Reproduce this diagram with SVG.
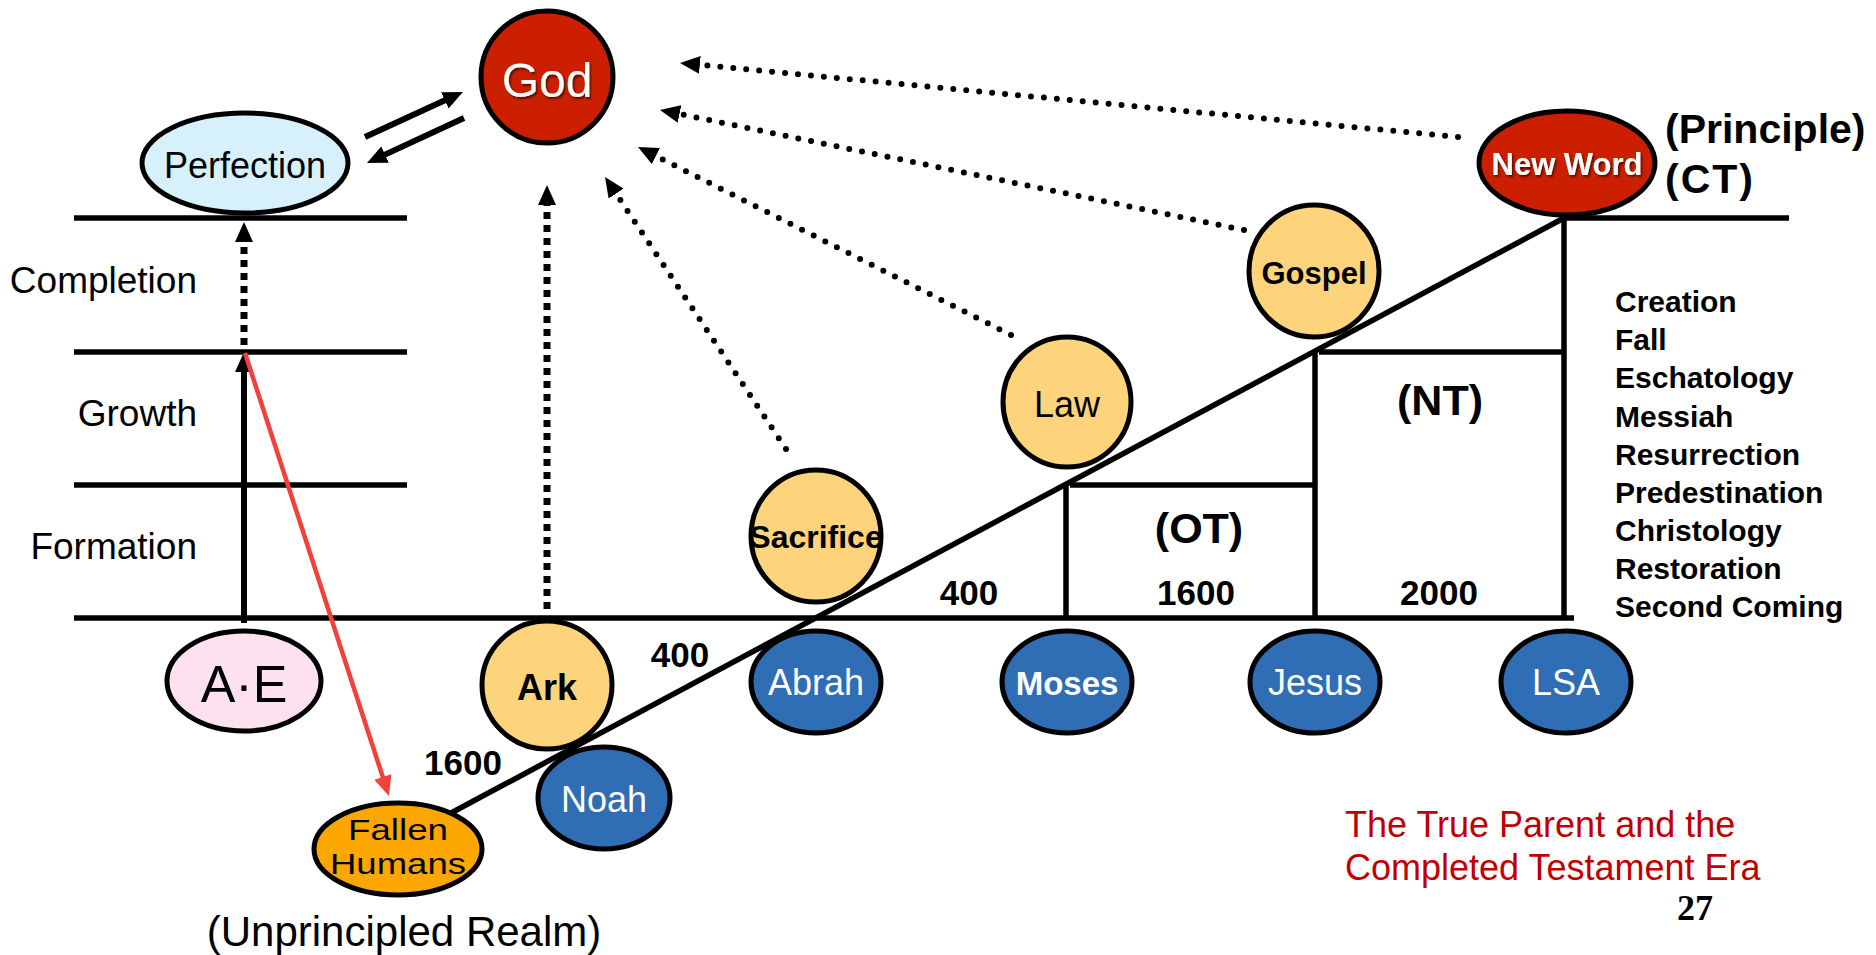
<svg xmlns="http://www.w3.org/2000/svg" width="1876" height="955" viewBox="0 0 1876 955">
<defs>
<style>
text{font-family:"Liberation Sans",Arial,sans-serif}
.ln{stroke:#000;stroke-width:5.5;fill:none}
.nd{stroke:#000;stroke-width:5}
.b{font-weight:bold}
.c{text-anchor:middle}
.wt{fill:#fff}
.sq{stroke:#000;stroke-width:7;stroke-dasharray:7 6;fill:none}
.dt{stroke:#000;stroke-width:6;stroke-dasharray:0 13;stroke-linecap:round;fill:none}
.sol{stroke:#000;stroke-width:6;fill:none}
.red{stroke:#f0413a;stroke-width:4.5;fill:none}
</style>
<marker id="ah" viewBox="0 0 20 18" refX="2" refY="9" markerWidth="20" markerHeight="18" markerUnits="userSpaceOnUse" orient="auto"><path d="M0,0 L20,9 L0,18 z" fill="#000"/></marker>
<marker id="ahr" viewBox="0 0 20 18" refX="2" refY="9" markerWidth="20" markerHeight="18" markerUnits="userSpaceOnUse" orient="auto"><path d="M0,0 L20,9 L0,18 z" fill="#f0413a"/></marker>
<filter id="sh" x="-20%" y="-20%" width="140%" height="140%"><feDropShadow dx="1.5" dy="2" stdDeviation="1.2" flood-color="#000" flood-opacity="0.6"/></filter>
</defs>
<rect width="1876" height="955" fill="#fff"/>

<g id="timeline">
<line class="ln" x1="74" y1="218" x2="407" y2="218"/>
<line class="ln" x1="74" y1="352" x2="407" y2="352"/>
<line class="ln" x1="74" y1="485" x2="407" y2="485"/>
<line class="ln" x1="74" y1="618" x2="1574" y2="618"/>
<line class="ln" x1="451" y1="813" x2="1564" y2="218"/>
<line class="ln" x1="1066" y1="485" x2="1066" y2="618"/>
<line class="ln" x1="1070" y1="485" x2="1315" y2="485"/>
<line class="ln" x1="1315" y1="352" x2="1315" y2="618"/>
<line class="ln" x1="1319" y1="352" x2="1564" y2="352"/>
<line class="ln" x1="1564" y1="218" x2="1564" y2="618"/>
<line class="ln" x1="1564" y1="218" x2="1789" y2="218"/>
</g>

<g id="labels">
<text x="197" y="293" font-size="37" text-anchor="end">Completion</text>
<text x="197" y="426" font-size="37" text-anchor="end">Growth</text>
<text x="197" y="559" font-size="37" text-anchor="end">Formation</text>
<text x="404" y="946" font-size="42" class="c">(Unprincipled Realm)</text>
<text x="463" y="775" font-size="35" class="b c">1600</text>
<text x="680" y="667" font-size="35" class="b c">400</text>
<text x="969" y="605" font-size="35" class="b c">400</text>
<text x="1196" y="605" font-size="35" class="b c">1600</text>
<text x="1439" y="605" font-size="35" class="b c">2000</text>
<text x="1199" y="543" font-size="43" class="b c">(OT)</text>
<text x="1440" y="415" font-size="43" class="b c">(NT)</text>
<text x="1665" y="143" font-size="41" class="b">(Principle)</text>
<text x="1665" y="193" font-size="41" class="b" letter-spacing="2">(CT)</text>
<g font-size="30" class="b">
<text x="1615" y="312">Creation</text>
<text x="1615" y="350">Fall</text>
<text x="1615" y="388">Eschatology</text>
<text x="1615" y="427">Messiah</text>
<text x="1615" y="465">Resurrection</text>
<text x="1615" y="503">Predestination</text>
<text x="1615" y="541">Christology</text>
<text x="1615" y="579">Restoration</text>
<text x="1615" y="617">Second Coming</text>
</g>
<text x="1345" y="837" font-size="36" fill="#c00000">The True Parent and the</text>
<text x="1345" y="880" font-size="36" fill="#c00000">Completed Testament Era</text>
<text x="1695" y="920" font-size="36" class="b c" style="font-family:'Liberation Serif','Times New Roman',serif">27</text>
</g>

<g id="connectors">
<line class="sol" x1="365" y1="137" x2="446.6" y2="99.5" marker-end="url(#ah)"/>
<line class="sol" x1="464" y1="118" x2="383.3" y2="155.4" marker-end="url(#ah)"/>
<line class="sol" x1="244" y1="623" x2="244" y2="370" stroke-width="7" marker-end="url(#ah)"/>
<line class="sq" x1="244" y1="345" x2="244" y2="240" marker-end="url(#ah)"/>
<line class="sq" x1="547" y1="609" x2="547" y2="203" marker-end="url(#ah)"/>
<line class="red" x1="245" y1="353" x2="383.4" y2="778.9" marker-end="url(#ahr)"/>
<line class="dt" x1="1458" y1="137" x2="697.9" y2="64.7" marker-end="url(#ah)"/>
<line class="dt" x1="1244" y1="230" x2="677.6" y2="113.6" marker-end="url(#ah)"/>
<line class="dt" x1="1011" y1="335" x2="654.1" y2="155.1" marker-end="url(#ah)"/>
<line class="dt" x1="786" y1="449" x2="615" y2="192" marker-end="url(#ah)"/>
</g>

<g id="god"><ellipse class="nd" cx="547" cy="77" rx="66" ry="66" fill="#cc1f00"/><text x="547" y="97" font-size="48" class="c wt" filter="url(#sh)">God</text></g>
<g id="perfection"><ellipse class="nd" cx="245" cy="163" rx="103" ry="50" fill="#d6f0fc"/><text x="245" y="178" font-size="36" class="c">Perfection</text></g>
<g id="ae"><ellipse class="nd" cx="244" cy="681" rx="77" ry="50" fill="#fde1ef"/><text x="244" y="702" font-size="52" class="c">A·E</text></g>
<g id="ark"><ellipse class="nd" cx="547" cy="685" rx="65" ry="64" fill="#fdd47c"/><text x="547" y="700" font-size="36" class="b c">Ark</text></g>
<g id="noah"><ellipse class="nd" cx="604" cy="798" rx="66" ry="51" fill="#2f6db5"/><text x="604" y="812" font-size="36" class="c wt">Noah</text></g>
<g id="fallen"><ellipse class="nd" cx="398" cy="849" rx="84" ry="46" fill="#fca700"/><text x="398" y="840" font-size="29" class="c" textLength="100" lengthAdjust="spacingAndGlyphs">Fallen</text><text x="398" y="874" font-size="29" class="c" textLength="136" lengthAdjust="spacingAndGlyphs">Humans</text></g>
<g id="sacrifice"><ellipse class="nd" cx="816" cy="536" rx="65" ry="66" fill="#fdd47c"/><text x="816" y="548" font-size="32" class="b c">Sacrifice</text></g>
<g id="law"><ellipse class="nd" cx="1067" cy="402" rx="64" ry="65" fill="#fdd47c"/><text x="1067" y="417" font-size="36" class="c">Law</text></g>
<g id="gospel"><ellipse class="nd" cx="1314" cy="271" rx="65" ry="66" fill="#fdd47c"/><text x="1314" y="284" font-size="31" class="b c">Gospel</text></g>
<g id="newword"><ellipse class="nd" cx="1567" cy="163" rx="88" ry="52" fill="#cc1f00"/><text x="1567" y="175" font-size="31" class="b c wt" filter="url(#sh)">New Word</text></g>
<g id="abrah"><ellipse class="nd" cx="816" cy="682" rx="65" ry="51" fill="#2f6db5"/><text x="816" y="695" font-size="36" class="c wt">Abrah</text></g>
<g id="moses"><ellipse class="nd" cx="1067" cy="682" rx="65" ry="51" fill="#2f6db5"/><text x="1067" y="695" font-size="33" class="b c wt">Moses</text></g>
<g id="jesus"><ellipse class="nd" cx="1315" cy="682" rx="65" ry="51" fill="#2f6db5"/><text x="1315" y="695" font-size="36" class="c wt">Jesus</text></g>
<g id="lsa"><ellipse class="nd" cx="1566" cy="682" rx="65" ry="51" fill="#2f6db5"/><text x="1566" y="695" font-size="36" class="c wt">LSA</text></g>
</svg>
